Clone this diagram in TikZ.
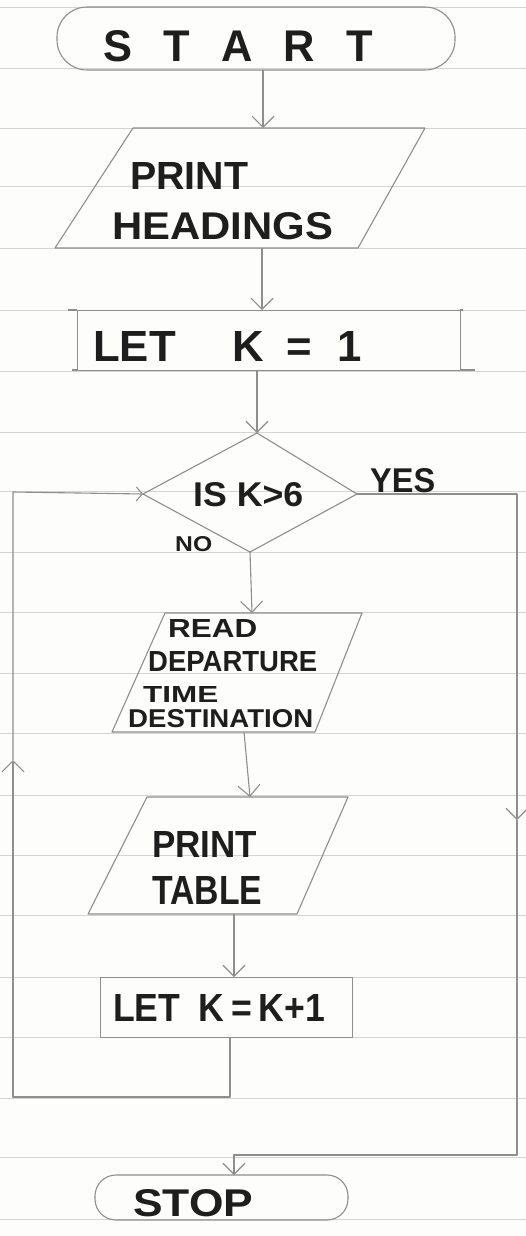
\documentclass[tikz,border=0pt]{standalone}
\usepackage{fontspec}
\setmainfont{Liberation Sans}
\usetikzlibrary{arrows.meta}
\definecolor{paper}{HTML}{FDFDFB}
\definecolor{rule}{HTML}{D4D4D4}
\definecolor{ink}{HTML}{8E8E8E}
\definecolor{pen}{HTML}{1E1E1E}
% text stretched to a given width and cap height (in pt)
\newcommand\handtext[3]{\resizebox{#1pt}{#2pt}{#3}}
\tikzset{
  flow/.style={draw=ink, line width=1.1pt, line join=round},
  tip/.style={-{Straight Barb[length=11pt,width=22pt]}},
  txt/.style={inner sep=0pt, anchor=south west, text=pen, font=\bfseries},
  terminal/.style={flow, inner sep=0pt},
  process/.style={flow, inner sep=0pt, anchor=north west}
}
\begin{document}
\begin{tikzpicture}[x=1pt,y=-1pt]
\fill[paper] (0,0) rectangle (526,1236);
\useasboundingbox (0,0) rectangle (526,1236);
% ruled paper
\foreach \y in {7,68,128,186,248,310,371,432,491,552,612,673,733,795,855,915,977,1037,1098,1157,1219}
  \draw[rule, line width=0.9pt] (0,\y) -- (526,\y);

% START
\node[terminal, rounded corners=30pt, minimum width=398pt, minimum height=63pt] (start) at (256,38.5) {};
\node[txt] (startlbl) at (103,62) {\handtext{270}{31}{S\hspace{.72em}T\hspace{.72em}A\hspace{.72em}R\hspace{.72em}T}};
\coordinate (start-s) at (263,70);

% PRINT HEADINGS
\coordinate (ph-n) at (263,128);
\coordinate (ph-s) at (262,248);
\draw[flow] (133,128) -- (425,128) -- (358,248) -- (55,248) -- cycle;
\node[txt] (ph1) at (130,190) {\handtext{118}{27}{PRINT}};
\node[txt] (ph2) at (112,240) {\handtext{221}{27}{HEADINGS}};

% LET K = 1
\node[process, minimum width=383pt, minimum height=60pt] (k1) at (77,310) {};
\draw[flow] (68,310) -- (77,310) (460,310) -- (463,310) (72,370) -- (77,370) (460,370) -- (475,370);
\node[txt] (k1lbl) at (93,362) {\handtext{269}{30}{LET\hspace{1.3em}K\hspace{.5em}=\hspace{.6em}1}};
\coordinate (k1-n) at (262,310);
\coordinate (k1-s) at (257,370);

% decision
\coordinate (dec-n) at (257,433);
\coordinate (dec-e) at (357,494);
\coordinate (dec-s) at (250,552);
\coordinate (dec-w) at (143,494);
\draw[flow] (dec-n) -- (dec-e) -- (dec-s) -- (dec-w) -- cycle;
\node[txt] (declbl) at (193,507) {\handtext{110}{24}{IS K>6}};
\node[txt] (yes) at (370,493) {\handtext{65}{24}{YES}};
\node[txt] (no) at (175,552) {\handtext{37}{15}{NO}};

% READ DEPARTURE TIME DESTINATION
\coordinate (rd-n) at (252,613);
\coordinate (rd-s) at (244,732);
\draw[flow] (165,613) -- (362,613) -- (315,732) -- (112,732) -- cycle;
\node[txt] (rd1) at (168,638) {\handtext{89}{18}{READ}};
\node[txt] (rd2) at (148,672) {\handtext{169}{20}{DEPARTURE}};
\node[txt] (rd3) at (143,703) {\handtext{75}{16}{TIME}};
\node[txt] (rd4) at (128,728) {\handtext{185}{18}{DESTINATION}};

% PRINT TABLE
\coordinate (pt-n) at (250,797);
\coordinate (pt-s) at (234,914);
\draw[flow] (147,797) -- (348,797) -- (297,914) -- (88,914) -- cycle;
\node[txt] (pt1) at (152,858) {\handtext{105}{26}{PRINT}};
\node[txt] (pt2) at (152,905) {\handtext{110}{28}{TABLE}};

% LET K = K+1
\node[process, minimum width=252pt, minimum height=60pt] (kk) at (100,977) {};
\node[txt] (kklbl) at (113,1022) {\handtext{212}{27}{LET\hspace{.5em}K\hspace{.2em}=\hspace{.2em}K+1}};
\coordinate (kk-n) at (234,977);
\coordinate (kk-s) at (230,1037);

% STOP
\node[terminal, rounded corners=21pt, minimum width=253pt, minimum height=45pt] (stop) at (221.5,1197.5) {};
\node[txt] (stoplbl) at (133,1217) {\handtext{120}{27}{STOP}};
\coordinate (stop-n) at (234,1175);

% main flow
\draw[flow, tip] (start-s) -- (ph-n);
\draw[flow, tip] (ph-s) -- (k1-n);
\draw[flow, tip] (k1-s) -- (dec-n);
\draw[flow, tip] (dec-s) -- (rd-n);
\draw[flow, tip] (rd-s) -- (pt-n);
\draw[flow, tip] (pt-s) -- (kk-n);

% loop back (NO path)
\coordinate (lp-a) at (230,1097);
\coordinate (lp-b) at (13,1097);
\coordinate (lp-m) at (13,760);
\coordinate (lp-c) at (13,492);
\draw[flow, tip] (kk-s) -- (lp-a) -- (lp-b) -- (lp-m);
\draw[flow, -{Straight Barb[length=6pt,width=14pt]}] (lp-m) -- (lp-c) -- (dec-w);

% exit (YES path)
\coordinate (ex-a) at (517,494);
\coordinate (ex-m) at (517,820);
\coordinate (ex-b) at (517,1155);
\coordinate (ex-c) at (234,1155);
\draw[flow, tip] (dec-e) -- (ex-a) -- (ex-m);
\draw[flow, tip] (ex-m) -- (ex-b) -- (ex-c) -- (stop-n);
\end{tikzpicture}
\end{document}
